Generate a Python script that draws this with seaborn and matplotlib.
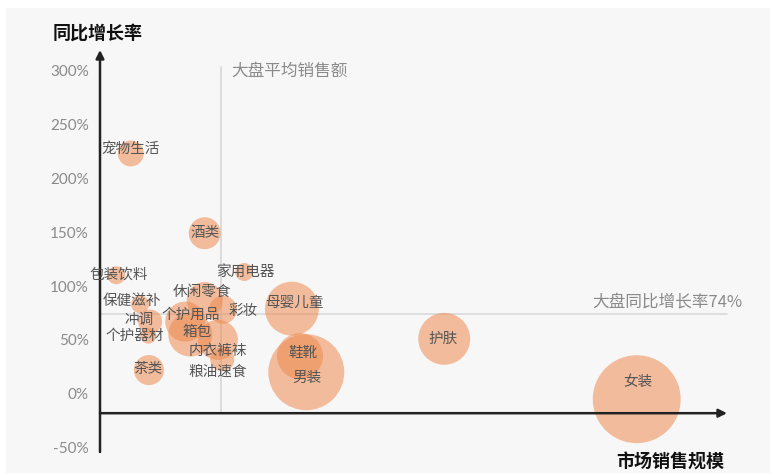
import matplotlib
matplotlib.use("Agg")
import matplotlib.pyplot as plt
import seaborn as sns
import pandas as pd
from matplotlib.patches import Rectangle

# ---------------- data ----------------
categories = ["宠物生活", "酒类", "包装饮料", "家用电器", "休闲零食", "保健滋补", "彩妆",
              "母婴儿童", "冲调", "个护用品", "箱包", "个护器材", "内衣裤袜", "鞋靴",
              "粮油速食", "茶类", "男装", "护肤", "女装"]
market_size = [4.9, 16.7, 2.6, 23.0, 16.7, 6.4, 19.6, 30.6, 8.0, 13.6, 14.4, 7.7,
               18.8, 31.9, 19.5, 7.8, 32.9, 54.9, 85.6]
growth = [223, 149, 110, 113, 87, 83, 78, 79, 67, 67, 55, 54, 50, 35, 32, 22, 20, 51, -5]
bubble = [7.3, 11.1, 3.5, 3.5, 14.1, 3.5, 8.5, 31.6, 6.3, 17.4, 21.0, 2.8, 17.4, 23.0,
          6.3, 9.8, 62.7, 29.3, 84.0]
yticks = [-50, 0, 50, 100, 150, 200, 250, 300]
avg_sales = 19.3
avg_growth = 74

# label offsets (pixels) relative to bubble centre
lab_dx = [0, 0, 2, 1, -3, -8, 20, 3, -11, 5, 7, -14, 0, 3, -5, -1, 1, -1, 1]
lab_dy = [4, 0, 1, 0, 8, 3, -1, 6, 2, 7, 3, 0, -11, 3, -12, 1, -6, 0, 17]

df = pd.DataFrame({"品类": categories, "市场销售规模": market_size,
                   "同比增长率": growth, "气泡": bubble})

# ---------------- style ----------------
sns.set_theme(style="white")
plt.rcParams["font.family"] = ["Noto Sans CJK SC", "DejaVu Sans"]

W, H = 774, 475
fig = plt.figure(figsize=(W / 100, H / 100), dpi=100)
fig.patch.set_facecolor("white")
fig.patches.append(Rectangle((6 / W, 2 / H), 764 / W, 465 / H, transform=fig.transFigure,
                             facecolor="#f7f7f7", edgecolor="none", zorder=-10))

ax = fig.add_axes([100 / W, 23 / H, 627 / W, 402 / H])
ax.set_facecolor("none")
ax.set_xlim(0, 100)
ax.set_ylim(-54, 319)
for s in ax.spines.values():
    s.set_visible(False)

# reference lines
ax.plot([avg_sales, avg_sales], [-18, 303], color="#d9d9d9", lw=1.3, zorder=1, clip_on=False)
ax.plot([0, 100], [avg_growth, avg_growth], color="#dcdcdc", lw=1.3, zorder=1, clip_on=False)

# bubbles
sns.scatterplot(data=df, x="市场销售规模", y="同比增长率", size="气泡",
                sizes=(0, 4770), size_norm=(0, 100), color="#ee8a50", alpha=0.55,
                edgecolor="none", linewidth=0, legend=False, ax=ax, zorder=2, clip_on=False)

# labels
for c, x, y, dx, dy in zip(categories, market_size, growth, lab_dx, lab_dy):
    ax.annotate(c, (x, y), xytext=(dx * 0.72, dy * 0.72), textcoords="offset points",
                ha="center", va="center", fontsize=10.5, color="#555555", zorder=4)

# axes arrows
ax.annotate("", xy=(0, 319), xytext=(0, -54),
            arrowprops=dict(arrowstyle="-|>", lw=1.8, color="#222222", mutation_scale=12,
                            shrinkA=0, shrinkB=0), annotation_clip=False)
ax.annotate("", xy=(100, -18), xytext=(0, -18),
            arrowprops=dict(arrowstyle="-|>", lw=1.8, color="#222222", mutation_scale=12,
                            shrinkA=0, shrinkB=0), annotation_clip=False)

# ticks
ax.set_xticks([])
ax.set_yticks(yticks)
ax.set_yticklabels([f"{v}%" for v in yticks], fontsize=11, color="#8a8a8a", family="Lato")
ax.tick_params(axis="y", length=0, pad=8)
ax.set_xlabel("")
ax.set_ylabel("")

# annotation texts
ax.text(21.0, 299, "大盘平均销售额", ha="left", va="center", fontsize=12, color="#8a8a8a")
ax.text(102.4, 85.5, "大盘同比增长率74%", ha="right", va="center", fontsize=12,
        color="#8a8a8a", clip_on=False)

fig.text(98 / W, 1 - 33 / H, "同比增长率", ha="center", va="center", fontsize=13,
         fontweight="bold", color="#111111")
fig.text(670 / W, 1 - 462 / H, "市场销售规模", ha="center", va="center", fontsize=13,
         fontweight="bold", color="#111111")

fig.savefig("out.png", dpi=100, facecolor=fig.get_facecolor())
